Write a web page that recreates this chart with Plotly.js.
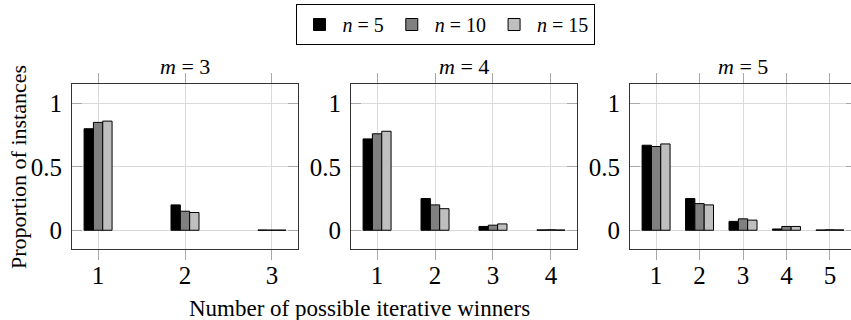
<!DOCTYPE html>
<html>
<head>
<meta charset="utf-8">
<script src="https://cdn.plot.ly/plotly-3.0.1.min.js"></script>
<style>
  html, body { margin: 0; padding: 0; overflow: hidden; background: #fff; }
  #chart { width: 860px; height: 320px; }
</style>
</head>
<body>
<div id="chart"></div>
<script>
// ---- data ----
const seriesNames = ['<i>n</i> = 5', '<i>n</i> = 10', '<i>n</i> = 15'];
const panelTitles = ['<i>m</i> = 3', '<i>m</i> = 4', '<i>m</i> = 5'];
const cats_m3 = [1, 2, 3];
const cats_m4 = [1, 2, 3, 4];
const cats_m5 = [1, 2, 3, 4, 5];
const m3_n5  = [0.80, 0.20, 0.002];
const m3_n10 = [0.85, 0.15, 0.001];
const m3_n15 = [0.86, 0.14, 0.001];
const m4_n5  = [0.72, 0.25, 0.03, 0.003];
const m4_n10 = [0.76, 0.20, 0.04, 0.004];
const m4_n15 = [0.78, 0.17, 0.05, 0.002];
const m5_n5  = [0.67, 0.25, 0.07, 0.01, 0.002];
const m5_n10 = [0.66, 0.21, 0.09, 0.03, 0.004];
const m5_n15 = [0.68, 0.20, 0.08, 0.03, 0.003];
const yLabel = 'Proportion of instances';
const xLabel = 'Number of possible iterative winners';

// ---- styling / layout ----
const W = 860, H = 320;
const colors = ['#000000', '#808080', '#bfbfbf'];
const panelPx = [[72, 298], [351, 577], [630, 856]];
const yPx = [84.3, 249.3];
const barPx = 9.33;
const fontFam = 'Liberation Serif';

const panels = [
  { cats: cats_m3, vals: [m3_n5, m3_n10, m3_n15] },
  { cats: cats_m4, vals: [m4_n5, m4_n10, m4_n15] },
  { cats: cats_m5, vals: [m5_n5, m5_n10, m5_n15] }
];

const traces = [];
const layout = {
  width: W, height: H,
  margin: { l: 0, r: 0, t: 0, b: 0 },
  paper_bgcolor: '#fff', plot_bgcolor: '#fff',
  barmode: 'overlay',
  showlegend: true,
  legend: {
    orientation: 'h',
    x: 445 / W, xanchor: 'center',
    y: 1 - 4 / H, yanchor: 'top',
    bordercolor: '#000', borderwidth: 1,
    font: { family: fontFam, size: 20, color: '#000' },
    itemwidth: 36,
    traceorder: 'normal'
  },
  font: { family: fontFam, color: '#000' },
  annotations: []
};

panels.forEach((p, i) => {
  const n = p.cats.length;
  const lo = 1 - 0.15 * (n - 1), hi = n + 0.15 * (n - 1);
  const w = barPx * (hi - lo) / (panelPx[i][1] - panelPx[i][0]);
  const xa = i === 0 ? 'x' : 'x' + (i + 1);
  const ya = i === 0 ? 'y' : 'y' + (i + 1);
  p.vals.forEach((v, s) => {
    traces.push({
      type: 'bar', x: p.cats, y: v,
      xaxis: xa, yaxis: ya,
      name: seriesNames[s],
      legendgroup: 's' + s,
      showlegend: i === 0,
      width: w, offset: (s - 1.5) * w,
      marker: { color: colors[s], line: { color: '#000', width: 1 } },
      hoverinfo: 'skip'
    });
  });
  const axKey = i === 0 ? '' : String(i + 1);
  layout['xaxis' + axKey] = {
    domain: [panelPx[i][0] / W, panelPx[i][1] / W],
    range: [lo, hi],
    anchor: ya,
    tickvals: p.cats, ticktext: p.cats.map(String),
    ticks: 'outside', ticklen: 10, tickcolor: '#a8a8a8', tickwidth: 1,
    showgrid: true, gridcolor: '#dadada', gridwidth: 1,
    showline: true, linecolor: '#333', linewidth: 1, mirror: 'ticks',
    zeroline: false,
    tickfont: { family: fontFam, size: 25, color: '#000' },
    ticklabelstandoff: -6,
    fixedrange: true
  };
  layout['yaxis' + axKey] = {
    domain: [1 - yPx[1] / H, 1 - yPx[0] / H],
    range: [-0.15, 1.15],
    anchor: xa,
    tickvals: [0, 0.5, 1], ticktext: ['0', '0.5', '1'],
    ticks: 'inside', ticklen: 10, tickcolor: '#a8a8a8', tickwidth: 1,
    showgrid: true, gridcolor: '#dadada', gridwidth: 1,
    showline: true, linecolor: '#333', linewidth: 1, mirror: 'ticks',
    zeroline: false,
    tickfont: { family: fontFam, size: 25, color: '#000' },
    ticklabelstandoff: 4,
    fixedrange: true
  };
  layout.annotations.push({
    text: panelTitles[i], xref: 'paper', yref: 'paper',
    x: (panelPx[i][0] + panelPx[i][1]) / 2 / W, y: 1 - 66 / H,
    xanchor: 'center', yanchor: 'middle', showarrow: false,
    font: { family: fontFam, size: 22, color: '#000' }
  });
});

layout.annotations.push({
  text: yLabel, xref: 'paper', yref: 'paper',
  x: 18 / W, y: 1 - 167 / H, xanchor: 'center', yanchor: 'middle',
  textangle: -90, showarrow: false,
  font: { family: fontFam, size: 22, color: '#000' }
});
layout.annotations.push({
  text: xLabel, xref: 'paper', yref: 'paper',
  x: 359 / W, y: 1 - 308 / H, xanchor: 'center', yanchor: 'middle',
  showarrow: false,
  font: { family: fontFam, size: 23, color: '#000' }
});

Plotly.newPlot('chart', traces, layout, { staticPlot: true, displayModeBar: false });
</script>
</body>
</html>
